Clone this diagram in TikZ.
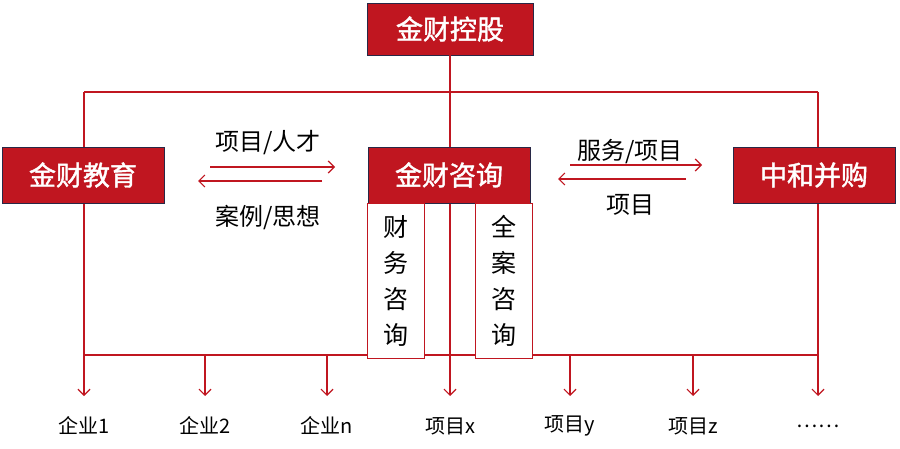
\documentclass[tikz,border=0pt]{standalone}
\usepackage{fontspec}
\setmainfont{Noto Sans CJK SC}
\newfontfamily\cjkbold[FakeBold=1.5]{Noto Sans CJK SC}
\usetikzlibrary{arrows.meta}
\definecolor{jcred}{RGB}{192,22,32}
\definecolor{jcedge}{RGB}{40,40,70}
\tikzset{
  unitbox/.style={draw=jcedge,fill=jcred,text=white,minimum width=162pt,minimum height=56pt,
    font=\cjkbold\fontsize{27}{27}\selectfont,inner sep=0},
  subbox/.style={draw=jcred,line width=1pt,fill=white,minimum width=57pt,minimum height=155pt,
    font=\fontsize{25}{36}\selectfont,align=center,inner sep=0,anchor=north},
  link/.style={jcred,line width=1.2pt},
  flow/.style={jcred,line width=1.2pt,-{Straight Barb[length=6pt,width=12pt]}},
  downflow/.style={jcred,line width=1.2pt,-{Straight Barb[length=6pt,width=12pt]}},
  lbl/.style={font=\fontsize{24}{24}\selectfont},
  leaf/.style={font=\fontsize{20}{20}\selectfont}
}
\begin{document}
\begin{tikzpicture}[x=1pt,y=-1pt]
  \useasboundingbox (0,0) rectangle (900,449);
  %% top
  \node[unitbox,minimum width=166pt,minimum height=52pt] (hold) at (450,29) {金财控股};
  \coordinate (busL) at (84,92);
  \coordinate (busR) at (818,92);
  \coordinate (busC) at (450,92);
  \draw[link] (busL) -- (busR);
  \draw[link] (hold) -- (busC);
  %% bottom bus
  \coordinate (baseL) at (84,355);
  \coordinate (baseR) at (818,355);
  \draw[link] (baseL) -- (baseR);
  \draw[link] (busL) -- (baseL);
  \draw[link] (busR) -- (baseR);
  \draw[link] (busC) -- (450,355);
  %% middle row
  \node[unitbox] (edu) at (83,175) {金财教育};
  \node[unitbox] (cons) at (449,175) {金财咨询};
  \node[unitbox] (ma) at (814,175) {中和并购};
  \node[subbox] (fin) at (395.5,203) {财\\务\\咨\\询};
  \node[subbox] (full) at (503.5,203) {全\\案\\咨\\询};
  %% flows
  \coordinate (a1) at (210,167); \coordinate (a2) at (335,167);
  \coordinate (b1) at (322,181); \coordinate (b2) at (198,181);
  \coordinate (c1) at (570,165); \coordinate (c2) at (702,165);
  \coordinate (d1) at (686,179); \coordinate (d2) at (558,179);
  \draw[flow] (a1) -- (a2);
  \draw[flow] (b1) -- (b2);
  \draw[flow] (c1) -- (c2);
  \draw[flow] (d1) -- (d2);
  \node[lbl] (t1) at (268,143) {项目/人才};
  \node[lbl] (t2) at (268,217) {案例/思想};
  \node[lbl] (t3) at (630,152) {服务/项目};
  \node[lbl] (t4) at (630,205) {项目};
  %% leaves
  \foreach \x/\name/\txt in {84/e1/企业1,205/e2/企业2,327/en/企业n,450/px/项目x,570/py/项目y,693/pz/项目z,818/dots/……}{
    \coordinate (top\name) at (\x,355);
    \coordinate (tip\name) at (\x,396);
    \draw[downflow] (top\name) -- (tip\name);
    \node[leaf] (\name) at (\x,426) {\txt};
  }
\end{tikzpicture}
\end{document}
